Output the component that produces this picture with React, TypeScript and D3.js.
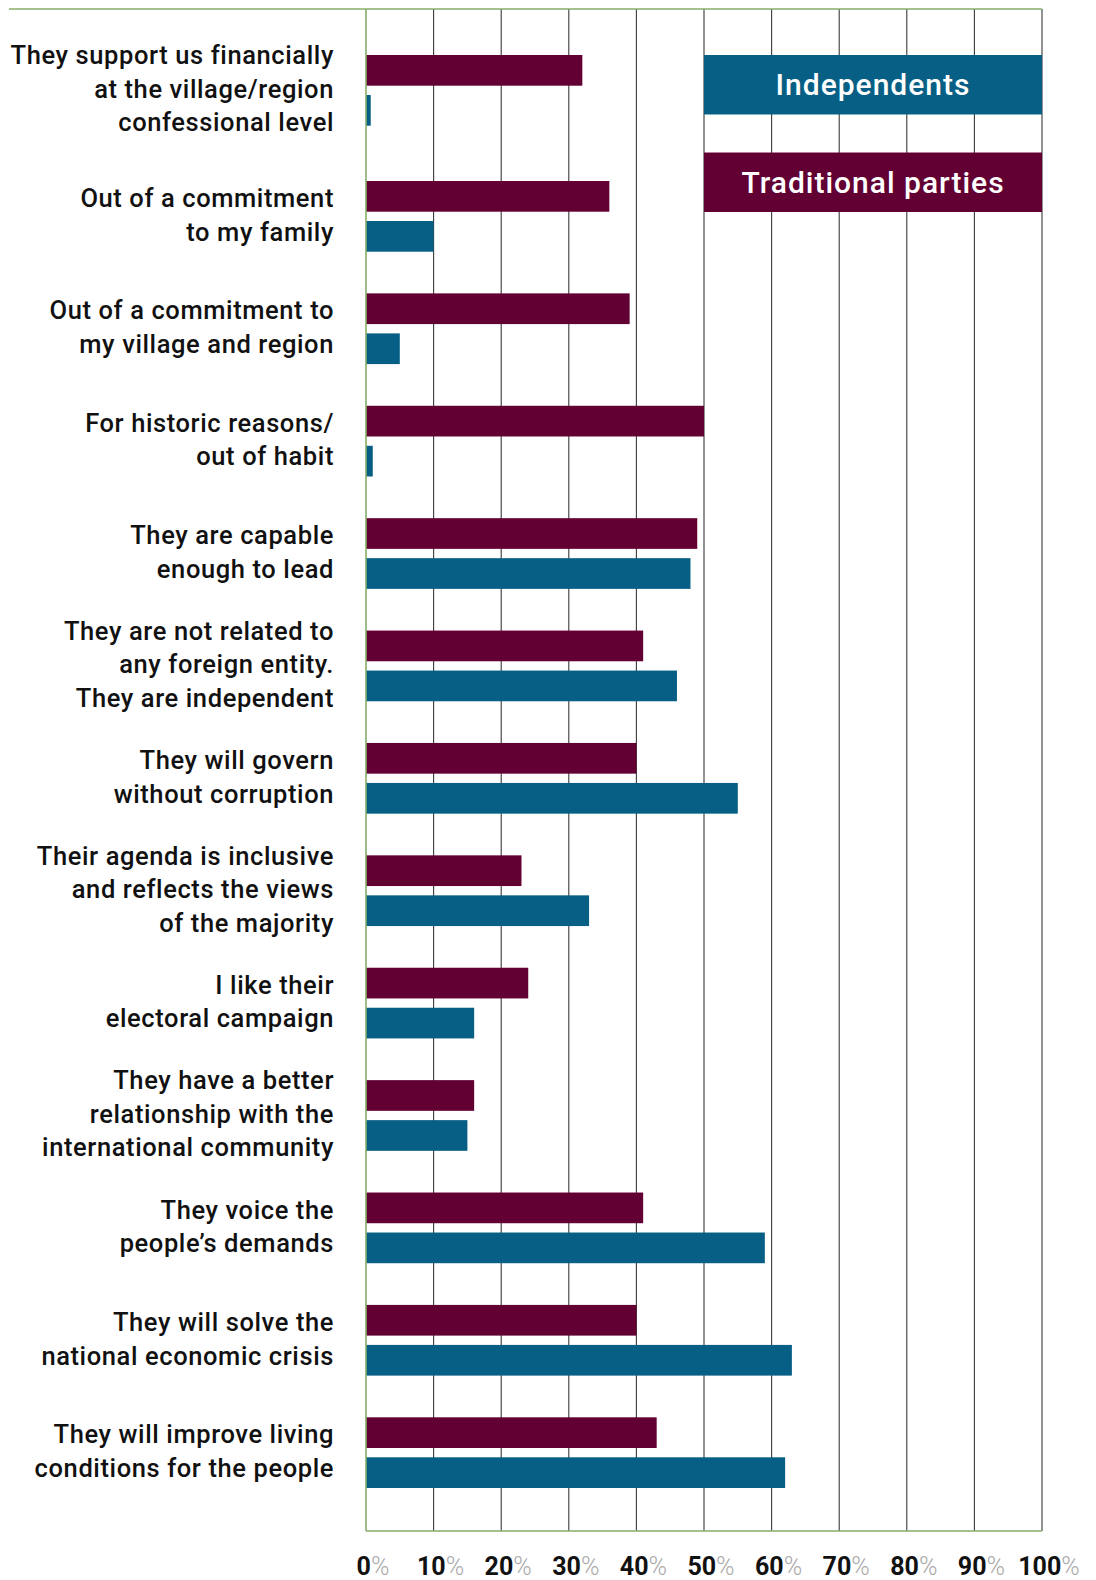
import React from "react";
import * as d3 from "d3";

const categories: string[][] = [
  ["They support us financially", "at the village/region", "confessional level"],
  ["Out of a commitment", "to my family"],
  ["Out of a commitment to", "my village and region"],
  ["For historic reasons/", "out of habit"],
  ["They are capable", "enough to lead"],
  ["They are not related to", "any foreign entity.", "They are independent"],
  ["They will govern", "without corruption"],
  ["Their agenda is inclusive", "and reflects the views", "of the majority"],
  ["I like their", "electoral campaign"],
  ["They have a better", "relationship with the", "international community"],
  ["They voice the", "people’s demands"],
  ["They will solve the", "national economic crisis"],
  ["They will improve living", "conditions for the people"],
];

const traditional = [32, 36, 39, 50, 49, 41, 40, 23, 24, 16, 41, 40, 43];
const independents = [0.7, 10, 5, 1, 48, 46, 55, 33, 16, 15, 59, 63, 62];

const seriesNames = ["Traditional parties", "Independents"];
const seriesColors = ["#630033", "#075F85"];
const ticks = [0, 10, 20, 30, 40, 50, 60, 70, 80, 90, 100];

const W = 1096;
const H = 1580;
const FONT = "Roboto, 'DejaVu Sans', sans-serif";

export default function App() {
  const x = d3.scaleLinear().domain([0, 100]).range([366, 1042]);
  const n = categories.length;
  // group top positions: the first group sits a little higher than the regular rhythm
  const y = d3
    .scaleLinear()
    .domain([0, 1, n - 1])
    .range([55, 181, 1417.3]);
  const groupH = 70.7;
  const ys = d3
    .scaleBand<number>()
    .domain([0, 1])
    .range([0, groupH])
    .paddingInner(0.2325)
    .paddingOuter(0);

  const plotTop = 9;
  const plotBottom = 1531;
  const green = "#86ad68";
  const lineH = 33.5;
  const series = [traditional, independents];

  const legendOrder = [1, 0];
  const legendY = d3
    .scaleBand<number>()
    .domain([0, 1])
    .range([55, 212])
    .paddingInner(0.39)
    .paddingOuter(0);

  return (
    <svg
      width={W}
      height={H}
      style={{ position: "absolute", left: 0, top: 0, background: "#fff" }}
    >
      {ticks.slice(1).map((t) => (
        <line
          key={"g" + t}
          x1={x(t)}
          x2={x(t)}
          y1={plotTop}
          y2={plotBottom}
          stroke="#3a3a3a"
          strokeWidth={1.1}
        />
      ))}
      <line x1={9} x2={x(100)} y1={plotTop} y2={plotTop} stroke={green} strokeWidth={1.6} />
      <line x1={x(0)} x2={x(100)} y1={plotBottom} y2={plotBottom} stroke={green} strokeWidth={1.6} />

      {categories.map((_, i) =>
        series.map((vals, s) => (
          <rect
            key={`b${i}-${s}`}
            x={x(0)}
            y={y(i) + (ys(s) as number)}
            width={x(vals[i]) - x(0)}
            height={ys.bandwidth()}
            fill={seriesColors[s]}
          />
        ))
      )}
      <line x1={x(0)} x2={x(0)} y1={plotTop} y2={plotBottom} stroke={green} strokeWidth={1.6} />

      {categories.map((lines, i) => {
        const cy = y(i) + groupH / 2;
        const m = lines.length;
        return (
          <text
            key={"c" + i}
            textAnchor="end"
            fontFamily={FONT}
            fontSize={25.5}
            fontWeight={500}
            fill="#111"
            letterSpacing={0.6}
          >
            {lines.map((l, k) => (
              <tspan key={k} x={334} y={cy + (k - (m - 1) / 2) * lineH + 7.5}>
                {l}
              </tspan>
            ))}
          </text>
        );
      })}

      {legendOrder.map((s, k) => {
        const ly = legendY(k) as number;
        return (
          <g key={"l" + s}>
            <rect
              x={x(50)}
              y={ly}
              width={x(100) - x(50)}
              height={legendY.bandwidth()}
              fill={seriesColors[s]}
            />
            <text
              x={(x(50) + x(100)) / 2}
              y={ly + legendY.bandwidth() / 2 + 10.5}
              textAnchor="middle"
              fontFamily={FONT}
              fontSize={30}
              fontWeight={500}
              fill="#fff"
              letterSpacing={1}
            >
              {seriesNames[s]}
            </text>
          </g>
        );
      })}

      {ticks.map((t) => (
        <text
          key={"t" + t}
          x={x(t) + 7}
          y={1575}
          textAnchor="middle"
          fontFamily={FONT}
          fontSize={25}
        >
          <tspan fontWeight={700} fill="#111">
            {t}
          </tspan>
          <tspan fontWeight={300} fill="#aaa">
            %
          </tspan>
        </text>
      ))}
    </svg>
  );
}
